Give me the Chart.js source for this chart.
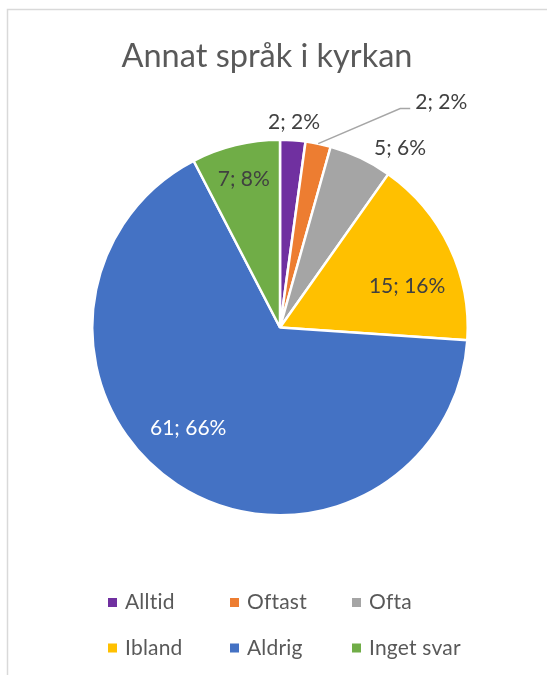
<!DOCTYPE html>
<html>
<head>
<meta charset="utf-8">
<script src="https://cdn.jsdelivr.net/npm/chart.js@4/dist/chart.umd.min.js"></script>
<style>
  html, body { margin: 0; padding: 0; background: #fff; }
  canvas { display: block; }
</style>
</head>
<body>
<canvas id="chart" width="547" height="675"></canvas>
<script>
const categories = ["Alltid", "Oftast", "Ofta", "Ibland", "Aldrig", "Inget svar"];
const answers = [2, 2, 5, 15, 61, 7];
const sliceColors = ["#7030A0", "#ED7D31", "#A5A5A5", "#FFC000", "#4472C4", "#70AD47"];

// label placement: radius as a fraction of the pie radius, angle shift in degrees
const labelRadius = [1.095, 1.474, 1.148, 0.712, 0.727, 0.815];
const labelShift = [0, 23.9, 8.4, 7.4, 9.0, 0];
const labelCallout = [false, true, false, false, false, false];
const labelColors = ["#404040", "#404040", "#404040", "#404040", "#ffffff", "#404040"];

const FONT = "Lato, 'Open Sans', sans-serif";
const TEXT = "#595959";

// percentages that add up to 100 (largest remainder)
function percentages(values) {
    const total = values.reduce((a, b) => a + b, 0);
    const raw = values.map(v => v / total * 100);
    const out = raw.map(Math.floor);
    let left = 100 - out.reduce((a, b) => a + b, 0);
    const order = raw.map((r, i) => [r - Math.floor(r), i]).sort((a, b) => b[0] - a[0]);
    for (let k = 0; k < left; k++) out[order[k][1]]++;
    return out;
}
const pcts = percentages(answers);

const framePlugin = {
    id: "frame",
    beforeDraw(chart) {
        const ctx = chart.ctx;
        ctx.save();
        ctx.fillStyle = "#fff";
        ctx.fillRect(0, 0, chart.width, chart.height);
        ctx.strokeStyle = "#d9d9d9";
        ctx.lineWidth = 1.5;
        ctx.beginPath();
        ctx.moveTo(7.5, chart.height + 2);
        ctx.lineTo(7.5, 9.5);
        ctx.lineTo(chart.width + 2, 9.5);
        ctx.stroke();

        ctx.fillStyle = TEXT;
        ctx.font = "32.5px " + FONT;
        ctx.textAlign = "center";
        ctx.textBaseline = "alphabetic";
        ctx.fillText("Annat språk i kyrkan", 267, 67);
        ctx.restore();
    }
};

const labelPlugin = {
    id: "sliceLabels",
    afterDatasetsDraw(chart) {
        const ctx = chart.ctx;
        const meta = chart.getDatasetMeta(0);
        ctx.save();
        ctx.font = "21px " + FONT;
        ctx.textBaseline = "middle";
        meta.data.forEach((arc, i) => {
            const p = arc.getProps(["x", "y", "startAngle", "endAngle", "outerRadius"], true);
            const mid = (p.startAngle + p.endAngle) / 2;
            const a = mid + labelShift[i] * Math.PI / 180;
            const r = p.outerRadius * labelRadius[i];
            const lx = p.x + Math.cos(a) * r;
            const ly = p.y + Math.sin(a) * r;
            const text = answers[i] + "; " + pcts[i] + "%";
            const w = ctx.measureText(text).width;
            if (labelCallout[i]) {
                const sx = p.x + Math.cos(mid) * p.outerRadius;
                const sy = p.y + Math.sin(mid) * p.outerRadius;
                const ex = lx - w / 2 - 5;
                const ey = ly + 6;
                ctx.strokeStyle = "#a6a6a6";
                ctx.lineWidth = 1.5;
                ctx.beginPath();
                ctx.moveTo(sx, sy);
                ctx.lineTo(ex - 10, ey);
                ctx.lineTo(ex, ey);
                ctx.stroke();
            }
            ctx.fillStyle = labelColors[i];
            ctx.textAlign = "center";
            ctx.fillText(text, lx, ly);
        });
        ctx.restore();
    }
};

const legendPlugin = {
    id: "gridLegend",
    afterDraw(chart) {
        const ctx = chart.ctx;
        ctx.save();
        ctx.font = "21px " + FONT;
        // a tiny letter spacing keeps "ti" from turning into a ligature
        ctx.letterSpacing = "0.2px";
        ctx.textBaseline = "middle";
        ctx.textAlign = "left";
        categories.forEach((name, i) => {
            const col = i % 3, row = Math.floor(i / 3);
            const x = 108 + col * 122;
            const y = 602.5 + row * 45.5;
            ctx.fillStyle = sliceColors[i];
            ctx.fillRect(x, y - 4.5, 9, 9);
            ctx.fillStyle = TEXT;
            ctx.fillText(name, x + 17, y);
        });
        ctx.restore();
    }
};

new Chart("chart", {
    type: "pie",
    data: {
        labels: categories,
        datasets: [{
            data: answers,
            backgroundColor: sliceColors,
            borderColor: "#ffffff",
            borderWidth: 2.5,
        }]
    },
    options: {
        responsive: false,
        devicePixelRatio: 1,
        animation: false,
        layout: { padding: { left: 91, right: 78, top: 138, bottom: 158 } },
        plugins: {
            legend: { display: false },
            title: { display: false },
            tooltip: { enabled: false }
        }
    },
    plugins: [framePlugin, labelPlugin, legendPlugin]
});
</script>
</body>
</html>
